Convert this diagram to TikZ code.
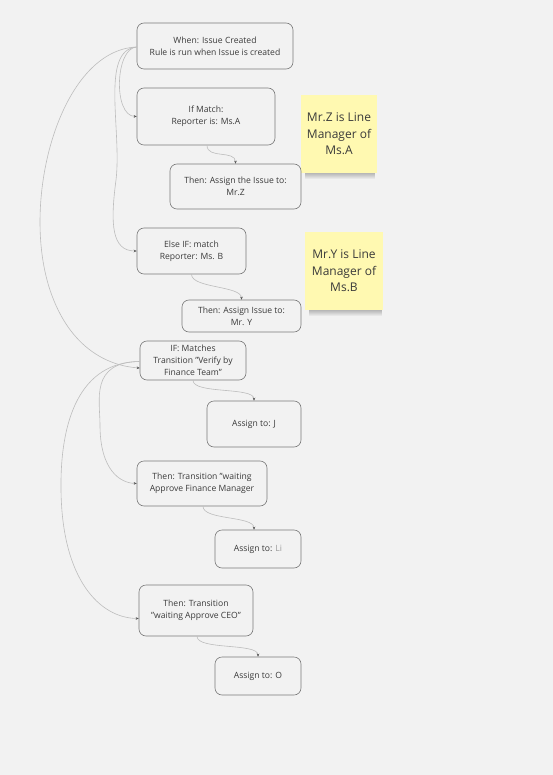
\documentclass[tikz,border=0pt]{standalone}
\usepackage{fontspec}
\setmainfont{Open Sans}
\usetikzlibrary{arrows.meta}
\definecolor{bg}{HTML}{F2F2F2}
\definecolor{boxline}{HTML}{7A7A7A}
\definecolor{conn}{HTML}{BDBDBD}
\definecolor{tip}{HTML}{555555}
\definecolor{txt}{HTML}{3A3A3A}
\definecolor{lighttxt}{HTML}{9A9A9A}
\definecolor{sticky}{HTML}{FFF9B1}
\begin{document}
\begin{tikzpicture}[x=1pt,y=-1pt,
  box/.style={draw=boxline, line width=0.6pt, rounded corners=7pt, fill=bg,
    text=txt, font=\fontsize{8.6}{12.2}\selectfont, align=center, inner sep=0pt},
  note/.style={fill=sticky, text=txt, font=\fontsize{12}{16.6}\selectfont,
    align=center, inner sep=0pt},
  link/.style={draw=conn, line width=0.6pt,
    -{Stealth[length=3pt,width=2.6pt,color=tip]}}
]
\useasboundingbox[fill=bg] (0,0) rectangle (553,775);

% shadows of sticky notes
\foreach \k in {0,...,6}{
  \fill[black,opacity=0.045] (305,160) rectangle (375,173+\k);
  \fill[black,opacity=0.045] (309,297) rectangle (382,310+\k);
}

% sticky notes
\node[note, minimum width=76, minimum height=78] (noteA) at (339,134)
  {Mr.Z is Line\\Manager of\\Ms.A};
\node[note, minimum width=78, minimum height=78] (noteB) at (344,271)
  {Mr.Y is Line\\Manager of\\Ms.B};

% boxes
\node[box, minimum width=156, minimum height=46] (when) at (215,46)
  {When: Issue Created\\Rule is run when Issue is created};
\node[box, minimum width=138, minimum height=57] (ifm) at (206,116.5)
  {If Match:\\Reporter is: Ms.A};
\node[box, minimum width=131, minimum height=45] (thz) at (235.5,186.5)
  {Then: Assign the Issue to:\\Mr.Z};
\node[box, minimum width=109, minimum height=46] (elif) at (191.5,251)
  {Else IF: match\\Reporter: Ms. B};
\node[box, minimum width=119, minimum height=32] (thy) at (241.5,316)
  {Then: Assign Issue to:\\Mr. Y};
\node[box, minimum width=106, minimum height=39] (ift) at (193,360.5)
  {IF: Matches\\Transition "Verify by\\Finance Team"};
\node[box, minimum width=94, minimum height=46] (asj) at (254,424)
  {Assign to: J};
\node[box, minimum width=130, minimum height=45] (thfm) at (202,483.5)
  {Then: Transition "waiting\\Approve Finance Manager};
\node[box, minimum width=86, minimum height=38] (asli) at (258,549)
  {Assign to: \textcolor{lighttxt}{Li}};
\node[box, minimum width=114, minimum height=51] (thceo) at (196,610.5)
  {Then: Transition\\"waiting Approve CEO"};
\node[box, minimum width=86, minimum height=38] (aso) at (258,676)
  {Assign to: O};

% connectors from the trigger
\coordinate (wsrc) at ([yshift=-1]when.west);
\draw[link] (wsrc) .. controls (115,48) and (113,116) .. (ifm.west);
\draw[link] (wsrc) .. controls (100,50) and (122,130) .. (116,180)
  .. controls (110,225) and (112,251) .. (elif.west);
\coordinate (iftin) at ([yshift=-7.5]ift.west);
\draw[link] (wsrc) .. controls (60,50) and (20,200) .. (50,290)
  .. controls (70,350) and (110,366) .. (iftin);

% connectors from the transition condition
\coordinate (isrc) at ([yshift=-1]ift.west);
\draw[link] (isrc) .. controls (90,362) and (100,400) .. (100,425)
  .. controls (100,470) and (120,483) .. (thfm.west);
\coordinate (ceoin) at ([yshift=-8]thceo.west);
\draw[link] (isrc) .. controls (80,362) and (60,420) .. (61,490)
  .. controls (62,580) and (100,618) .. (ceoin);

% downward connectors
\draw[link] ([xshift=1]ifm.south) .. controls ([xshift=1,yshift=-14]ifm.south) and ([yshift=14]thz.north) .. (thz.north);
\draw[link] (elif.south) .. controls ([yshift=-14]elif.south) and ([yshift=14]thy.north) .. (thy.north);
\draw[link] (ift.south) .. controls ([yshift=-14]ift.south) and ([yshift=14]asj.north) .. (asj.north);
\draw[link] ([xshift=1]thfm.south) .. controls ([xshift=1,yshift=-14]thfm.south) and ([xshift=-4,yshift=14]asli.north) .. ([xshift=-4]asli.north);
\draw[link] ([xshift=1]thceo.south) .. controls ([xshift=1,yshift=-14]thceo.south) and ([yshift=14]aso.north) .. (aso.north);
\end{tikzpicture}
\end{document}
